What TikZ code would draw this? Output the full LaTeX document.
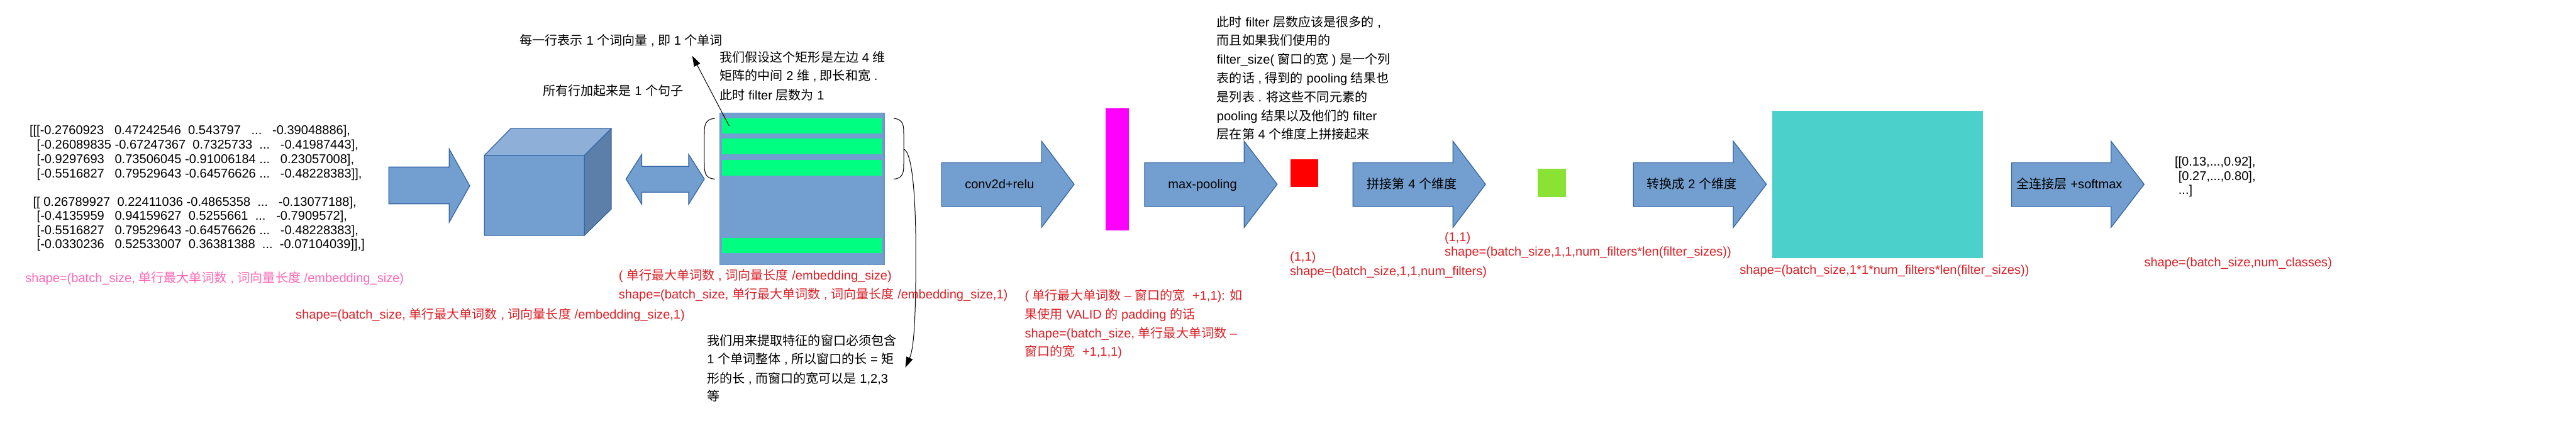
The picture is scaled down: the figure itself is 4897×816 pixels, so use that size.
\documentclass[tikz,border=0pt]{standalone}
\usepackage{fontspec}
\setmainfont{Liberation Sans}
\newfontfamily\cjk{Noto Sans CJK SC}
\usetikzlibrary{arrows.meta}
\newcommand\zh[1]{{\cjk #1}}
\definecolor{arrowfill}{RGB}{114,159,207}
\definecolor{arrowline}{RGB}{52,101,164}
\definecolor{cubetop}{RGB}{142,176,216}
\definecolor{cubeside}{RGB}{91,127,168}
\definecolor{barcol}{RGB}{0,255,128}
\definecolor{myred}{RGB}{218,32,38}
\definecolor{mypink}{RGB}{255,104,180}
\definecolor{teal2}{RGB}{75,208,204}
\definecolor{lgreen}{RGB}{138,226,52}
\definecolor{rectline}{RGB}{104,146,196}
\definecolor{fmapcol}{RGB}{255,0,255}
\definecolor{poolcol}{RGB}{255,0,0}
\tikzset{
  txt/.style={inner sep=0pt, anchor=base west, font=\fontsize{24}{27}\selectfont},
  redt/.style={txt, text=myred},
  pinkt/.style={txt, text=mypink},
  lbl/.style={inner sep=0pt, anchor=base, font=\fontsize{24}{27}\selectfont},
  arrowshape/.style={fill=arrowfill, draw=arrowline, line width=1.5pt, line join=miter},
  box/.style={inner sep=0pt, outer sep=0pt, draw=none},
  conn/.style={draw=black, line width=1.2pt},
  tip/.style={-{Triangle[length=20pt,width=13pt]}},
}
\newcommand\fatarrow[3]{\draw[arrowshape] (#1,309) -- (#2,309) -- (#2,268) -- (#3,350) -- (#2,432) -- (#2,392) -- (#1,392) -- cycle;}
\begin{document}
\begin{tikzpicture}[x=1pt,y=-1pt]
\fill[white] (0,0) rectangle (4897,816);
\path[use as bounding box] (0,0) rectangle (4897,816);

% ---- input matrix text
\node[txt] (m1) at (56,255) {[[[-0.2760923\ \ \ 0.47242546\ \ 0.543797\ \ \ ...\ \ \ -0.39048886],};
\node[txt] (m2) at (70,283) {[-0.26089835\ -0.67247367\ \ 0.7325733\ \ ...\ \ \ -0.41987443],};
\node[txt] (m3) at (70,310) {[-0.9297693\ \ \ 0.73506045\ -0.91006184\ ...\ \ \ 0.23057008],};
\node[txt] (m4) at (70,338) {[-0.5516827\ \ \ 0.79529643\ -0.64576626\ ...\ \ \ -0.48228383]],};
\node[txt] (m5) at (62.7,391) {[[\ 0.26789927\ \ 0.22411036\ -0.4865358\ \ ...\ \ \ -0.13077188],};
\node[txt] (m6) at (70,418) {[-0.4135959\ \ \ 0.94159627\ \ 0.5255661\ \ ...\ \ \ -0.7909572],};
\node[txt] (m7) at (70,445) {[-0.5516827\ \ \ 0.79529643\ -0.64576626\ ...\ \ \ -0.48228383],};
\node[txt] (m8) at (70,472) {[-0.0330236\ \ \ 0.52533007\ \ 0.36381388\ \ ...\ \ -0.07104039]],]};
\node[pinkt] (s0) at (48,536) {shape=(batch\_size, \zh{单行最大单词数} , \zh{词向量长度} /embedding\_size)};

% ---- arrow 1
\draw[arrowshape] (739,317) -- (854,317) -- (854,283) -- (893,353) -- (854,422) -- (854,387) -- (739,387) -- cycle;

% ---- cube
\fill[arrowfill] (921,295) rectangle (1111,447);
\fill[cubetop] (921,295) -- (971,244) -- (1162,244) -- (1111,295) -- cycle;
\fill[cubeside] (1111,295) -- (1162,244) -- (1162,397) -- (1111,447) -- cycle;
\draw[arrowline, line width=1.5pt, line join=miter] (921,295) rectangle (1111,447)
  (921,295) -- (971,244) -- (1162,244) -- (1111,295)
  (1162,244) -- (1162,397) -- (1111,447);
\node[redt] (s1) at (562,606) {shape=(batch\_size, \zh{单行最大单词数} , \zh{词向量长度} /embedding\_size,1)};

% ---- double arrow
\draw[arrowshape] (1190,340) -- (1220,293) -- (1220,316) -- (1309,316) -- (1309,293) -- (1339,340)
  -- (1309,388) -- (1309,365) -- (1220,365) -- (1220,388) -- cycle;

% ---- matrix rectangle with word rows
\node[box, fill=arrowfill, draw=rectline, line width=1.5pt, minimum width=313pt, minimum height=288pt] (mat) at (1524.5,359) {};
\node[box, fill=barcol, minimum width=304pt, minimum height=29pt] (g1) at (1524,239.5) {};
\node[box, fill=barcol, minimum width=304pt, minimum height=30pt] (g2) at (1524,278) {};
\node[box, fill=barcol, minimum width=304pt, minimum height=29pt] (g3) at (1524,318.5) {};
\node[box, fill=barcol, minimum width=304pt, minimum height=29pt] (g4) at (1524,466.5) {};
% brackets
\draw[conn] (1359,225) .. controls (1339,226) and (1339,240) .. (1339,255) -- (1339,310) .. controls (1339,325) and (1339,339) .. (1359,340);
\draw[conn] (1699,225) .. controls (1718,226) and (1718,240) .. (1718,255) -- (1718,310) .. controls (1718,325) and (1718,339) .. (1699,340);
\coordinate (rb) at (1718,283);
\coordinate (gstart) at (1386,239);

\node[redt] (s2a) at (1176,531) {( \zh{单行最大单词数} , \zh{词向量长度} /embedding\_size)};
\node[redt] (s2b) at (1176,567) {shape=(batch\_size, \zh{单行最大单词数} , \zh{词向量长度} /embedding\_size,1)};

% ---- notes
\node[txt] (n1) at (988,85) {\zh{每一行表示} 1 \zh{个词向量} , \zh{即} 1 \zh{个单词}};
\node[txt] (n2) at (1032,181) {\zh{所有行加起来是} 1 \zh{个句子}};
\node[txt] (n3a) at (1368,118) {\zh{我们假设这个矩形是左边} 4 \zh{维}};
\node[txt] (n3b) at (1368,153) {\zh{矩阵的中间} 2 \zh{维} , \zh{即长和宽} .};
\node[txt] (n3c) at (1368,190) {\zh{此时} filter \zh{层数为} 1};
\coordinate (n1tip) at (1316,106);
\draw[conn, tip] (gstart) -- (n1tip);

\node[txt] (w1) at (1344,656) {\zh{我们用来提取特征的窗口必须包含}};
\node[txt] (w2) at (1344,691) {1 \zh{个单词整体} , \zh{所以窗口的长} = \zh{矩}};
\node[txt] (w3) at (1344,727) {\zh{形的长} , \zh{而窗口的宽可以是} 1,2,3};
\node[txt] (w4) at (1344,761) {\zh{等}};
\coordinate (wtip) at (1721,698);
\draw[conn, tip] (rb) .. controls (1735,290) and (1741,380) .. (1741,480) .. controls (1741,600) and (1738,660) .. (wtip);

% ---- conv2d
\fatarrow{1790}{1980}{2042}
\node[lbl] (l1) at (1900,358) {conv2d+relu};
\node[box, fill=fmapcol, minimum width=44pt, minimum height=231pt] (fmap) at (2124,321.5) {};
\node[redt] (s3a) at (1948,570) {( \zh{单行最大单词数} – \zh{窗口的宽}\ \ +1,1): \zh{如}};
\node[redt] (s3b) at (1948,605) {\zh{果使用} VALID \zh{的} padding \zh{的话}};
\node[redt] (s3c) at (1948,641) {shape=(batch\_size, \zh{单行最大单词数} –};
\node[redt] (s3d) at (1948,676) {\zh{窗口的宽}\ \ +1,1,1)};

% ---- max pooling
\fatarrow{2176}{2365}{2428}
\node[lbl] (l2) at (2286,358) {max-pooling};
\node[box, fill=poolcol, minimum width=53pt, minimum height=53pt] (pool) at (2479.5,328.5) {};
\node[redt] (s4a) at (2452,496) {(1,1)};
\node[redt] (s4b) at (2452,523) {shape=(batch\_size,1,1,num\_filters)};

\node[txt] (p1) at (2313,51) {\zh{此时} filter \zh{层数应该是很多的} ,};
\node[txt] (p2) at (2313,86) {\zh{而且如果我们使用的}};
\node[txt] (p3) at (2313,121) {filter\_size( \zh{窗口的宽} ) \zh{是一个列}};
\node[txt] (p4) at (2313,157) {\zh{表的话} , \zh{得到的} pooling \zh{结果也}};
\node[txt] (p5) at (2313,193) {\zh{是列表} . \zh{将这些不同元素的}};
\node[txt] (p6) at (2313,229) {pooling \zh{结果以及他们的} filter};
\node[txt] (p7) at (2313,264) {\zh{层在第} 4 \zh{个维度上拼接起来}};

% ---- concat
\fatarrow{2572}{2762}{2824}
\node[lbl] (l3) at (2684,358) {\zh{拼接第} 4 \zh{个维度}};
\node[box, fill=lgreen, minimum width=54pt, minimum height=53pt] (cat) at (2950,347.5) {};
\node[redt] (s5a) at (2746,458) {(1,1)};
\node[redt] (s5b) at (2746,486) {shape=(batch\_size,1,1,num\_filters*len(filter\_sizes))};

% ---- flatten
\fatarrow{3105}{3295}{3358}
\node[lbl] (l4) at (3216,358) {\zh{转换成} 2 \zh{个维度}};
\node[box, fill=teal2, minimum width=400pt, minimum height=280pt] (flat) at (3569,350) {};
\node[redt] (s6) at (3307,521) {shape=(batch\_size,1*1*num\_filters*len(filter\_sizes))};

% ---- fc + softmax
\fatarrow{3824}{4013}{4076}
\node[lbl] (l5) at (3934,358) {\zh{全连接层} +softmax};
\node[txt] (o1) at (4134,315) {[[0.13,...,0.92],};
\node[txt] (o2) at (4141,342) {[0.27,...,0.80],};
\node[txt] (o3) at (4141,369) {...]};
\node[redt] (s7) at (4076,506) {shape=(batch\_size,num\_classes)};
\end{tikzpicture}
\end{document}
